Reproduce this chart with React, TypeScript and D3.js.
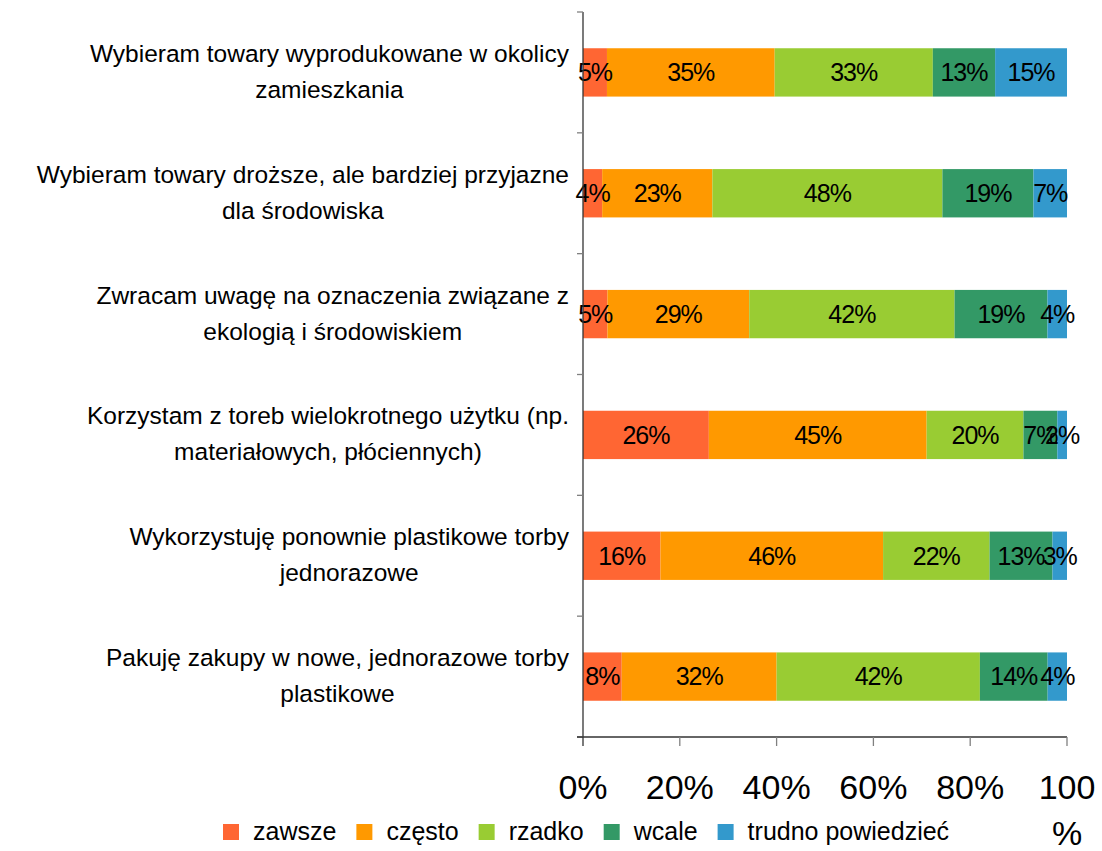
import { useEffect, useRef } from 'react';
import * as d3 from 'd3';

const categories: string[][] = [
  ['Wybieram towary wyprodukowane w okolicy', 'zamieszkania'],
  ['Wybieram towary droższe, ale bardziej przyjazne', 'dla środowiska'],
  ['Zwracam uwagę na oznaczenia związane z', 'ekologią i środowiskiem'],
  ['Korzystam z toreb wielokrotnego użytku (np.', 'materiałowych, płóciennych)'],
  ['Wykorzystuję ponownie plastikowe torby', 'jednorazowe'],
  ['Pakuję zakupy w nowe, jednorazowe torby', 'plastikowe'],
];

const seriesNames = ['zawsze', 'często', 'rzadko', 'wcale', 'trudno powiedzieć'];
const seriesColors = ['#FF6633', '#FF9900', '#99CC33', '#339966', '#3399CC'];

const zawsze = [5, 4, 5, 26, 16, 8];
const czesto = [35, 23, 29, 45, 46, 32];
const rzadko = [33, 48, 42, 20, 22, 42];
const wcale = [13, 19, 19, 7, 13, 14];
const trudno = [15, 7, 4, 2, 3, 4];

const tickValues = [0, 0.2, 0.4, 0.6, 0.8, 1];
const tickLabels = [['0%'], ['20%'], ['40%'], ['60%'], ['80%'], ['100', '%']];

const FONT = '"Liberation Sans", Arial, sans-serif';

const App = () => {
  const svgRef = useRef<SVGSVGElement>(null);
  const width = 1102;
  const height = 851;

  useEffect(() => {
    if (!svgRef.current) return;
    const svg = d3.select(svgRef.current);
    svg.selectAll('*').remove();

    const left = 583;
    const right = 1067;
    const top = 12;
    const bottom = 737;

    const rows = categories.map((c, i) => ({
      idx: String(i),
      values: [zawsze[i], czesto[i], rzadko[i], wcale[i], trudno[i]],
    }));

    // 100% stacked
    const stack = d3.stack<{ idx: string; values: number[] }, number>()
      .keys([0, 1, 2, 3, 4])
      .value((d, k) => d.values[k])
      .offset(d3.stackOffsetExpand);
    const series = stack(rows);

    const x = d3.scaleLinear().domain([0, 1]).range([left, right]);
    const y = d3.scaleBand()
      .domain(rows.map(r => r.idx))
      .range([top, bottom])
      .paddingInner(0.6)
      .paddingOuter(0.3);

    // bars
    series.forEach((s, k) => {
      svg.append('g')
        .selectAll('rect')
        .data(s)
        .join('rect')
        .attr('x', d => x(d[0]))
        .attr('y', d => y(d.data.idx) || 0)
        .attr('width', d => x(d[1]) - x(d[0]))
        .attr('height', y.bandwidth())
        .attr('fill', seriesColors[k]);
    });

    // value labels
    series.forEach((s, k) => {
      svg.append('g')
        .selectAll('text')
        .data(s)
        .join('text')
        .attr('x', d => (x(d[0]) + x(d[1])) / 2)
        .attr('y', d => (y(d.data.idx) || 0) + y.bandwidth() / 2)
        .attr('dy', '0.35em')
        .attr('text-anchor', 'middle')
        .style('font-family', FONT)
        .style('font-size', '25px')
        .style('letter-spacing', '-1px')
        .style('fill', '#000')
        .text(d => `${d.data.values[k]}%`);
    });

    // category axis
    const ax = svg.append('g');
    ax.append('line')
      .attr('x1', left).attr('x2', left)
      .attr('y1', top).attr('y2', bottom)
      .attr('stroke', '#333').attr('stroke-width', 1.3);
    d3.range(rows.length + 1).forEach(i => {
      const ty = top + i * (bottom - top) / rows.length;
      ax.append('line')
        .attr('x1', left - 6).attr('x2', left)
        .attr('y1', ty).attr('y2', ty)
        .attr('stroke', '#808080').attr('stroke-width', 1.3);
    });

    // category labels: lines centred within a right-aligned block
    const labelRight = 569;
    rows.forEach((r, i) => {
      const cy = (y(r.idx) || 0) + y.bandwidth() / 2;
      const g = svg.append('g');
      const texts = categories[i].map((line, j) =>
        g.append('text')
          .attr('y', cy - 19 + j * 36)
          .attr('dy', '0.35em')
          .attr('text-anchor', 'middle')
          .style('font-family', FONT)
          .style('font-size', '24.5px')
          .style('fill', '#000')
          .text(line)
      );
      const maxW = d3.max(texts, t => (t.node() as SVGTextElement).getComputedTextLength()) || 0;
      texts.forEach(t => t.attr('x', labelRight - maxW / 2));
    });

    // value axis
    const vx = svg.append('g');
    vx.append('line')
      .attr('x1', left - 6).attr('x2', right)
      .attr('y1', bottom).attr('y2', bottom)
      .attr('stroke', '#333').attr('stroke-width', 1.3);
    tickValues.forEach((t, i) => {
      vx.append('line')
        .attr('x1', x(t)).attr('x2', x(t))
        .attr('y1', bottom).attr('y2', bottom + 9)
        .attr('stroke', i === 0 ? '#333' : '#808080').attr('stroke-width', 1.3);
      tickLabels[i].forEach((lbl, j) => {
        vx.append('text')
          .attr('x', x(t))
          .attr('y', 799 + j * 46)
          .attr('text-anchor', 'middle')
          .style('font-family', FONT)
          .style('font-size', '34px')
          .style('fill', '#000')
          .text(lbl);
      });
    });

    // legend
    const lg = svg.append('g');
    let lx = 223;
    seriesNames.forEach((name, k) => {
      lg.append('rect')
        .attr('x', lx).attr('y', 824)
        .attr('width', 16).attr('height', 16)
        .attr('fill', seriesColors[k]);
      const t = lg.append('text')
        .attr('x', lx + 30)
        .attr('y', 840)
        .style('font-family', FONT)
        .style('font-size', '25px')
        .style('fill', '#000')
        .text(name);
      lx += 30 + (t.node() as SVGTextElement).getComputedTextLength() + 20;
    });
  }, []);

  return (
    <svg
      ref={svgRef}
      width={width}
      height={height}
      style={{ position: 'absolute', left: 0, top: 0, background: '#fff' }}
    />
  );
};

export default App;
